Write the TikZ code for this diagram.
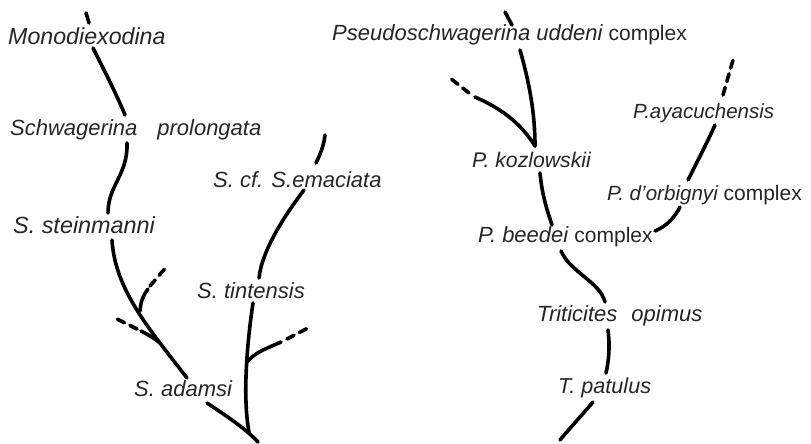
\documentclass[tikz,border=0pt]{standalone}
\usepackage{fontspec}
\setmainfont{Liberation Sans}
\newcommand{\sizedit}[1]{\fontsize{#1}{#1}\selectfont\itshape}
\newcommand{\cplx}{{\fontsize{21}{24}\selectfont\upshape complex}}
\begin{document}
\begin{tikzpicture}[x=1pt,y=-1pt,
  taxon/.style={anchor=west,inner sep=0pt,font=\sizedit{22},text=black!85},
  lineage/.style={line width=3.6pt,line cap=round,black},
  broken/.style={lineage,dash pattern=on 8pt off 6pt}]
\useasboundingbox[fill=white] (0,0) rectangle (811,444);

% ---- taxon labels ----
\node[taxon,font=\sizedit{23.2}] (mono) at (8,36) {Monodiexodina};
\node[taxon] (schw)   at (10,130) {Schwagerina\hspace{20pt}prolongata};
\node[taxon] (emac)   at (213,180) {S. cf. S.emaciata};
\node[taxon,font=\sizedit{23.4}] (stein) at (13,225) {S. steinmanni};
\node[taxon] (tint)   at (197,291) {S. tintensis};
\node[taxon] (adamsi) at (134,389) {S. adamsi};
\node[taxon] (pseudo) at (332,35) {Pseudoschwagerina uddeni \cplx};
\node[taxon,font=\sizedit{21.2}] (kozl) at (472,160) {P. kozlowskii};
\node[taxon,font=\sizedit{20.5}] (ayac) at (633,113) {P.ayacuchensis};
\node[taxon,font=\sizedit{20.6}] (dorb) at (607,195) {P. d'orbignyi \cplx};
\node[taxon] (beedei) at (478,237) {P. beedei \cplx};
\node[taxon] (trit)   at (537,316) {Triticites\hspace{14pt}opimus};
\node[taxon,font=\sizedit{21.6}] (patul) at (558,388) {T. patulus};

% ---- line ends and branch points ----
\coordinate (monoUp)   at (86,13);   \coordinate (monoN)   at (89,23);
\coordinate (monoS)    at (93,48);   \coordinate (schwN)   at (125,115);
\coordinate (schwS)    at (127,143); \coordinate (steinN)  at (108,213);
\coordinate (steinS)   at (112,240); \coordinate (adamsiN) at (187,378);
\coordinate (forkA)    at (140,311); \coordinate (forkAe)  at (148,289);
\coordinate (forkAd)   at (150,286); \coordinate (forkAx)  at (168,265);
\coordinate (forkB)    at (160,343); \coordinate (forkBe)  at (141,331);
\coordinate (forkBd)   at (137,329); \coordinate (forkBx)  at (113,317);
\coordinate (emacUp)   at (325,135); \coordinate (emacN)   at (316,163);
\coordinate (emacS)    at (304,190); \coordinate (tintN)   at (259,278);
\coordinate (tintS)    at (253,303); \coordinate (root)    at (249,432);
\coordinate (forkC)    at (247,362); \coordinate (forkCe)  at (281,342);
\coordinate (forkCd)   at (287,339); \coordinate (forkCx)  at (308,328);
\coordinate (adamsiS)  at (207,403); \coordinate (rootEnd) at (258,442);

\coordinate (pseudoUp) at (505,12);  \coordinate (pseudoN) at (512,25);
\coordinate (pseudoS)  at (520,50);  \coordinate (kozlN)   at (535,146);
\coordinate (forkD)    at (475,97);  \coordinate (forkDd)  at (469,93);
\coordinate (forkDx)   at (450,78);
\coordinate (kozlS)    at (540,173); \coordinate (beedeiN) at (552,225);
\coordinate (beedeiS)  at (561,251); \coordinate (tritN)   at (605,302);
\coordinate (tritS)    at (608,330); \coordinate (patulN)  at (606,373);
\coordinate (patulS)   at (593,402); \coordinate (patulEnd) at (560,440);
\coordinate (beedeiE)  at (655,231); \coordinate (dorbS)   at (680,207);
\coordinate (dorbN)    at (688,180); \coordinate (ayacS)   at (715,125);
\coordinate (ayacN)    at (723,95);  \coordinate (ayacUp)  at (733,60);

% ---- Schwagerina lineages ----
\draw[lineage] (monoUp) -- (monoN);
\draw[lineage] (monoS) .. controls (100,62) and (117,95) .. (schwN);
\draw[lineage] (schwS) .. controls (128,175) and (108,185) .. (steinN);
\draw[lineage] (steinS) .. controls (115,290) and (150,330) .. (adamsiN);
\draw[lineage] (forkA) .. controls (141,300) and (143,296) .. (forkAe);
\draw[broken]  (forkAd) -- (forkAx);
\draw[lineage] (forkB) .. controls (154,338) and (147,334) .. (forkBe);
\draw[broken]  (forkBd) -- (forkBx);
\draw[lineage] (emacUp) .. controls (324,145) and (320,155) .. (emacN);
\draw[lineage] (emacS) .. controls (285,215) and (262,250) .. (tintN);
\draw[lineage] (tintS) .. controls (246,350) and (243,400) .. (root);
\draw[lineage] (forkC) .. controls (255,352) and (268,348) .. (forkCe);
\draw[broken]  (forkCd) -- (forkCx);
\draw[lineage] (adamsiS) .. controls (225,415) and (245,428) .. (rootEnd);

% ---- Pseudoschwagerina and Triticites lineages ----
\draw[lineage] (pseudoUp) -- (pseudoN);
\draw[lineage] (pseudoS) .. controls (530,85) and (535,115) .. (kozlN);
\draw[lineage] (forkD) .. controls (500,108) and (520,122) .. (kozlN);
\draw[broken]  (forkDd) -- (forkDx);
\draw[lineage] (kozlS) .. controls (542,195) and (547,210) .. (beedeiN);
\draw[lineage] (beedeiS) .. controls (570,272) and (600,282) .. (tritN);
\draw[lineage] (tritS) .. controls (610,345) and (609,360) .. (patulN);
\draw[lineage] (patulS) .. controls (582,415) and (570,428) .. (patulEnd);
\draw[lineage] (beedeiE) .. controls (667,226) and (675,217) .. (dorbS);
\draw[lineage] (dorbN) .. controls (697,162) and (707,143) .. (ayacS);
\draw[broken]  (ayacN) -- (ayacUp);
\end{tikzpicture}
\end{document}
